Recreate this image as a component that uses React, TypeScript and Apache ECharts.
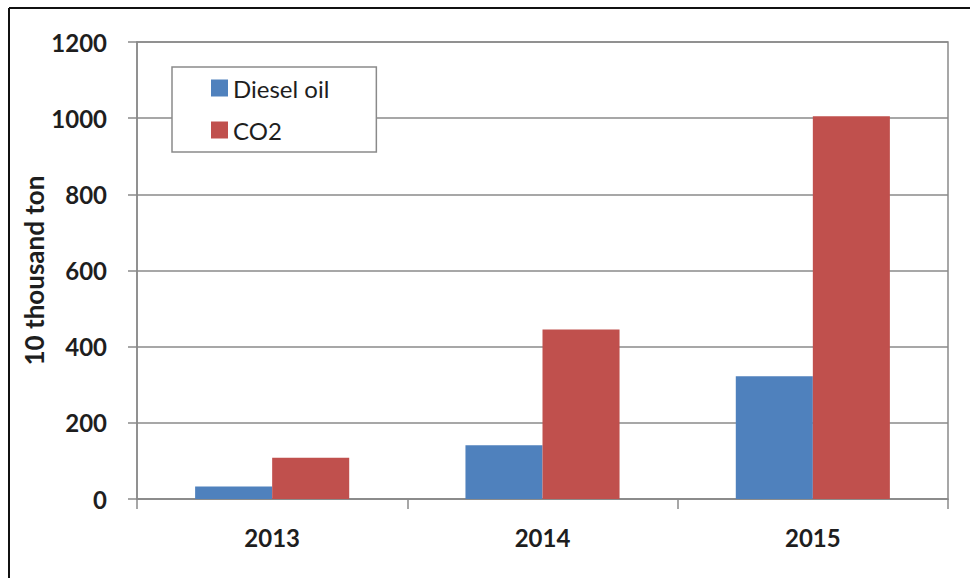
import React, { useEffect, useRef } from "react";
import * as echarts from "echarts";

const years = ["2013", "2014", "2015"];
const dieselOil = [33, 141, 322];
const co2 = [108, 445, 1005];
const yTicks = { min: 0, max: 1200, interval: 200 };

const FONT = "Lato, 'Open Sans', sans-serif";
const TEXT = "#1e1e1e";
const LINE = "#8a8a8a";

export default function App() {
  const ref = useRef<HTMLDivElement>(null);

  useEffect(() => {
    document.body.style.margin = "0";
    if (!ref.current) return;
    const chart = echarts.init(ref.current, null, { renderer: "svg" });
    chart.setOption({
      animation: false,
      backgroundColor: "#ffffff",
      textStyle: { fontFamily: FONT, color: TEXT },
      grid: {
        left: 137,
        right: 22,
        top: 42,
        bottom: 79,
        show: true,
        borderColor: LINE,
        borderWidth: 1.5,
      },
      legend: {
        orient: "vertical",
        left: 172,
        top: 67,
        padding: [9, 47, 10, 39],
        itemWidth: 17,
        itemHeight: 17,
        itemGap: 18,
        borderColor: LINE,
        borderWidth: 1.5,
        backgroundColor: "#ffffff",
        icon: "rect",
        textStyle: { fontSize: 24, lineHeight: 24, color: TEXT, fontFamily: FONT },
        data: ["Diesel oil", "CO2"],
      },
      xAxis: {
        type: "category",
        data: years,
        axisLine: { lineStyle: { color: LINE, width: 1.5 } },
        axisTick: { show: true, alignWithLabel: false, length: 10, lineStyle: { color: LINE, width: 1.5 } },
        axisLabel: { fontSize: 24, fontWeight: "bold", color: TEXT, margin: 26 },
      },
      yAxis: {
        type: "value",
        min: yTicks.min,
        max: yTicks.max,
        interval: yTicks.interval,
        name: "10 thousand ton",
        nameLocation: "middle",
        nameGap: 90,
        nameMoveOverlap: false,
        nameTextStyle: { fontSize: 26, fontWeight: "bold", color: TEXT },
        axisLine: { show: true, lineStyle: { color: LINE, width: 1.5 } },
        axisTick: { show: true, length: 9, lineStyle: { color: LINE, width: 1.5 } },
        axisLabel: {
          fontSize: 24,
          fontWeight: "bold",
          color: TEXT,
          margin: 30,
          formatter: (v: number) => String(v),
        },
        splitLine: { lineStyle: { color: LINE, width: 1.5 } },
      },
      series: [
        {
          name: "Diesel oil",
          type: "bar",
          data: dieselOil,
          itemStyle: { color: "#4f81bd" },
          barGap: "0%",
          barCategoryGap: "43%",
        },
        {
          name: "CO2",
          type: "bar",
          data: co2,
          itemStyle: { color: "#c0504d" },
          barGap: "0%",
          barCategoryGap: "43%",
        },
      ],
      graphic: [
        { type: "line", shape: { x1: 9, y1: 8, x2: 970, y2: 8 }, style: { stroke: "#111", lineWidth: 2 } },
        { type: "line", shape: { x1: 9, y1: 8, x2: 9, y2: 578 }, style: { stroke: "#111", lineWidth: 2 } },
      ],
    });
    return () => chart.dispose();
  }, []);

  return <div ref={ref} style={{ width: 970, height: 578 }} />;
}
